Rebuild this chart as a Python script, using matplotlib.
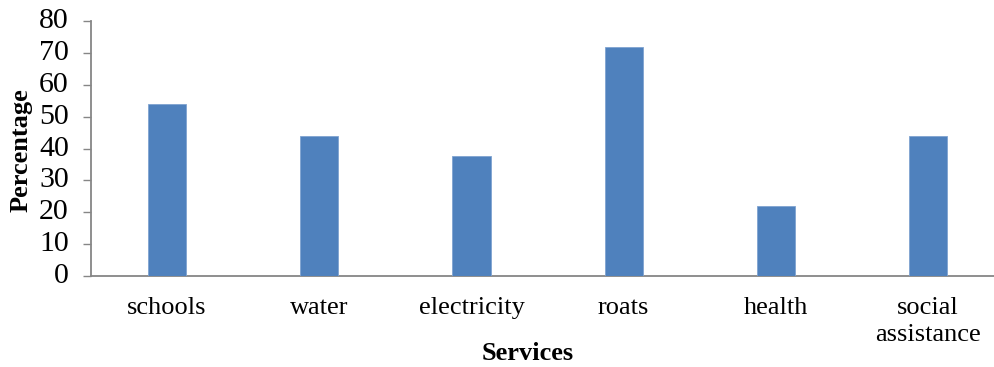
import matplotlib
matplotlib.use("Agg")
import matplotlib.pyplot as plt

categories = ["schools", "water", "electricity", "roats", "health", "social\nassistance"]
values = [54, 44, 37.5, 72, 22, 44]
yticks = [0, 10, 20, 30, 40, 50, 60, 70, 80]

plt.rcParams['font.family'] = ['Liberation Serif', 'DejaVu Serif']

W, H = 995, 367
fig = plt.figure(figsize=(W / 100, H / 100), dpi=100)
left, right, top, bottom = 91, 995, 21, 276
ax = fig.add_axes([left / W, (H - bottom) / H, (right - left) / W, (bottom - top) / H])

x = list(range(len(categories)))
ax.bar(x, values, width=0.25, color="#4F81BD", edgecolor="#7FA3D0", linewidth=0.6, zorder=3)

spacing = 152.2
ax.set_xlim(-0.5, -0.5 + (right - left) / spacing)
ax.set_ylim(0, 80)
ax.set_yticks(yticks)
ax.set_xticks(x)
ax.set_xticklabels(categories, fontsize=19, linespacing=1.3)
ax.tick_params(axis='y', labelsize=21.5, length=6, width=1, color="#868686", pad=10)
ax.tick_params(axis='x', length=0, pad=15)

for s in ["top", "right"]:
    ax.spines[s].set_visible(False)
for s in ["left", "bottom"]:
    ax.spines[s].set_color("#868686")
    ax.spines[s].set_linewidth(1.3)

for lbl in ax.get_yticklabels():
    lbl.set_verticalalignment('center')

fig.text(528 / W, 1 - 353 / H, "Services", fontsize=19, fontweight="bold",
         ha="center", va="center")
fig.text(21 / W, 1 - 150 / H, "Percentage", fontsize=19, fontweight="bold",
         ha="center", va="center", rotation=90)

fig.savefig("out.png", dpi=100)
